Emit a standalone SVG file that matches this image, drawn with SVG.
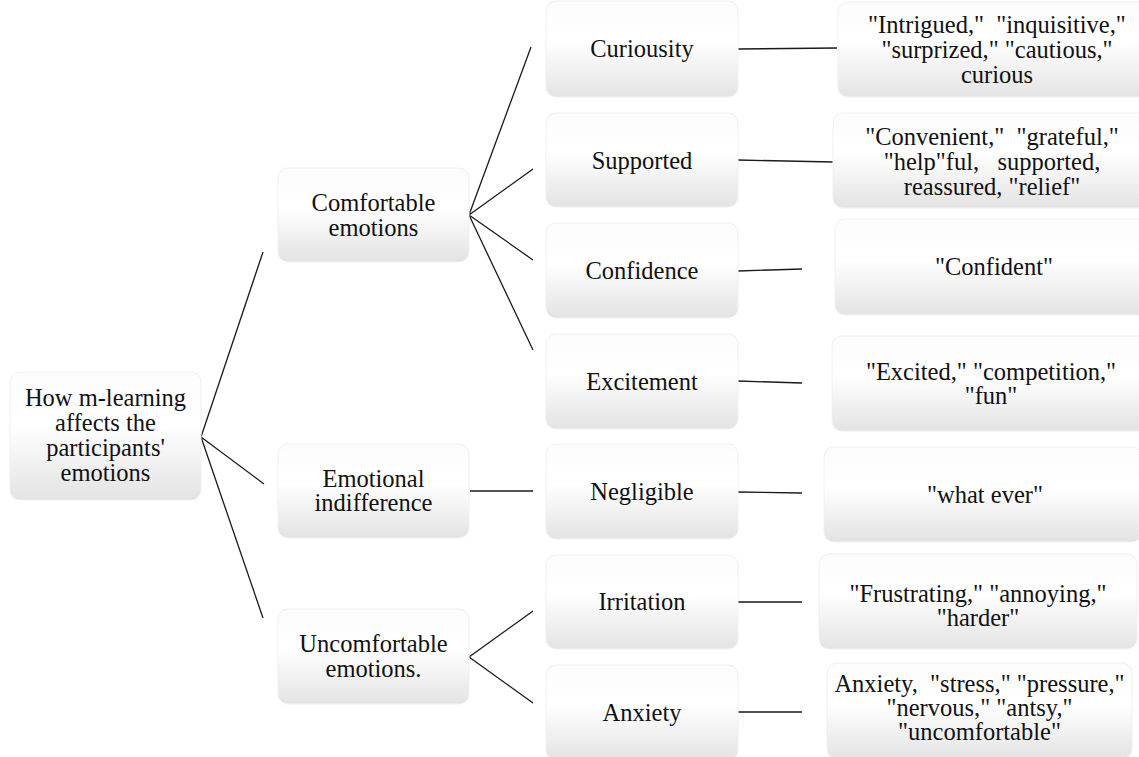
<svg xmlns="http://www.w3.org/2000/svg" width="1139" height="757" viewBox="0 0 1139 757">
<defs>
<linearGradient id="g" x1="0" y1="0" x2="0" y2="1">
<stop offset="0" stop-color="#fcfcfc"/>
<stop offset="0.42" stop-color="#ffffff"/>
<stop offset="1" stop-color="#e3e3e3"/>
</linearGradient>
</defs>
<style>
.b{fill:url(#g);stroke:#f0f0f0;stroke-width:1}
text{font-family:"Liberation Serif",serif;font-size:24.5px;fill:#111;text-anchor:middle}
.c{stroke:#1a1a1a;stroke-width:1.3;fill:none}
</style>
<rect width="1139" height="757" fill="#fff"/>
<g id="connectors">
<path class="c" d="M201,437 L263,252 M201,437 L264,484 M201,437 L263,618"/>
<path class="c" d="M469,215 L531,47 M469,215 L533,169 M469,215 L533,260 M469,215 L533,350"/>
<path class="c" d="M470,491 L533,491"/>
<path class="c" d="M469,657 L533,611 M469,657 L533,703"/>
<path class="c" d="M738,49 L837,48 M738,160 L833,162 M738,271 L802,269 M738,381 L802,383 M738,492 L802,493 M738,602 L802,602 M738,712 L802,712"/>
</g>
<g id="n-root"><rect class="b" x="10" y="372" width="191" height="128" rx="10"/>
<text font-family="Liberation Serif" x="105.5" y="406">How m-learning<tspan x="105.5" dy="25">affects the</tspan><tspan x="105.5" dy="25">participants'</tspan><tspan x="105.5" dy="25">emotions</tspan></text></g>
<g id="n-comfortable"><rect class="b" x="278" y="168" width="191" height="94" rx="10"/>
<text font-family="Liberation Serif" x="373.5" y="211">Comfortable<tspan x="373.5" dy="25">emotions</tspan></text></g>
<g id="n-indifference"><rect class="b" x="278" y="444" width="191" height="94" rx="10"/>
<text font-family="Liberation Serif" x="373.5" y="487">Emotional<tspan x="373.5" dy="24">indifference</tspan></text></g>
<g id="n-uncomfortable"><rect class="b" x="278" y="609" width="191" height="95" rx="10"/>
<text font-family="Liberation Serif" x="373.5" y="652">Uncomfortable<tspan x="373.5" dy="25">emotions.</tspan></text></g>
<g id="n-curiousity"><rect class="b" x="546" y="1" width="192" height="96" rx="10"/><text font-family="Liberation Serif" x="642" y="57">Curiousity</text></g>
<g id="n-supported"><rect class="b" x="546" y="113" width="192" height="94" rx="10"/><text font-family="Liberation Serif" x="642" y="169">Supported</text></g>
<g id="n-confidence"><rect class="b" x="546" y="223" width="192" height="95" rx="10"/><text font-family="Liberation Serif" x="642" y="279">Confidence</text></g>
<g id="n-excitement"><rect class="b" x="546" y="334" width="192" height="95" rx="10"/><text font-family="Liberation Serif" x="642" y="390">Excitement</text></g>
<g id="n-negligible"><rect class="b" x="546" y="444" width="192" height="95" rx="10"/><text font-family="Liberation Serif" x="642" y="500">Negligible</text></g>
<g id="n-irritation"><rect class="b" x="546" y="555" width="192" height="94" rx="10"/><text font-family="Liberation Serif" x="642" y="610">Irritation</text></g>
<g id="n-anxiety"><rect class="b" x="546" y="665" width="192" height="95" rx="10"/><text font-family="Liberation Serif" x="642" y="721">Anxiety</text></g>
<g id="q-curious"><rect class="b" x="838" y="2" width="318" height="95" rx="10"/>
<text font-family="Liberation Serif" x="997" y="33" xml:space="preserve">"Intrigued,"  "inquisitive,"<tspan x="997" dy="25">"surprized," "cautious,"</tspan><tspan x="997" dy="25">curious</tspan></text></g>
<g id="q-supported"><rect class="b" x="833" y="113" width="318" height="95" rx="10"/>
<text font-family="Liberation Serif" x="992" y="145" xml:space="preserve">"Convenient,"  "grateful,"<tspan x="992" dy="25">"help"ful,   supported,</tspan><tspan x="992" dy="25">reassured, "relief"</tspan></text></g>
<g id="q-confident"><rect class="b" x="835" y="219" width="318" height="96" rx="10"/><text font-family="Liberation Serif" x="994" y="275">"Confident"</text></g>
<g id="q-excited"><rect class="b" x="832" y="336" width="318" height="95" rx="10"/>
<text font-family="Liberation Serif" x="991" y="380">"Excited," "competition,"<tspan x="991" dy="24">"fun"</tspan></text></g>
<g id="q-whatever"><rect class="b" x="824" y="447" width="318" height="95" rx="10"/><text font-family="Liberation Serif" x="985" y="503">"what ever"</text></g>
<g id="q-frustrating"><rect class="b" x="819" y="554" width="318" height="95" rx="10"/>
<text font-family="Liberation Serif" x="978" y="602">"Frustrating," "annoying,"<tspan x="978" dy="24">"harder"</tspan></text></g>
<g id="q-anxiety"><rect class="b" x="827" y="663" width="305" height="96" rx="10"/>
<text font-family="Liberation Serif" x="979.5" y="692" xml:space="preserve">Anxiety,  "stress," "pressure,"<tspan x="979.5" dy="24">"nervous," "antsy,"</tspan><tspan x="979.5" dy="24">"uncomfortable"</tspan></text></g>
</svg>
